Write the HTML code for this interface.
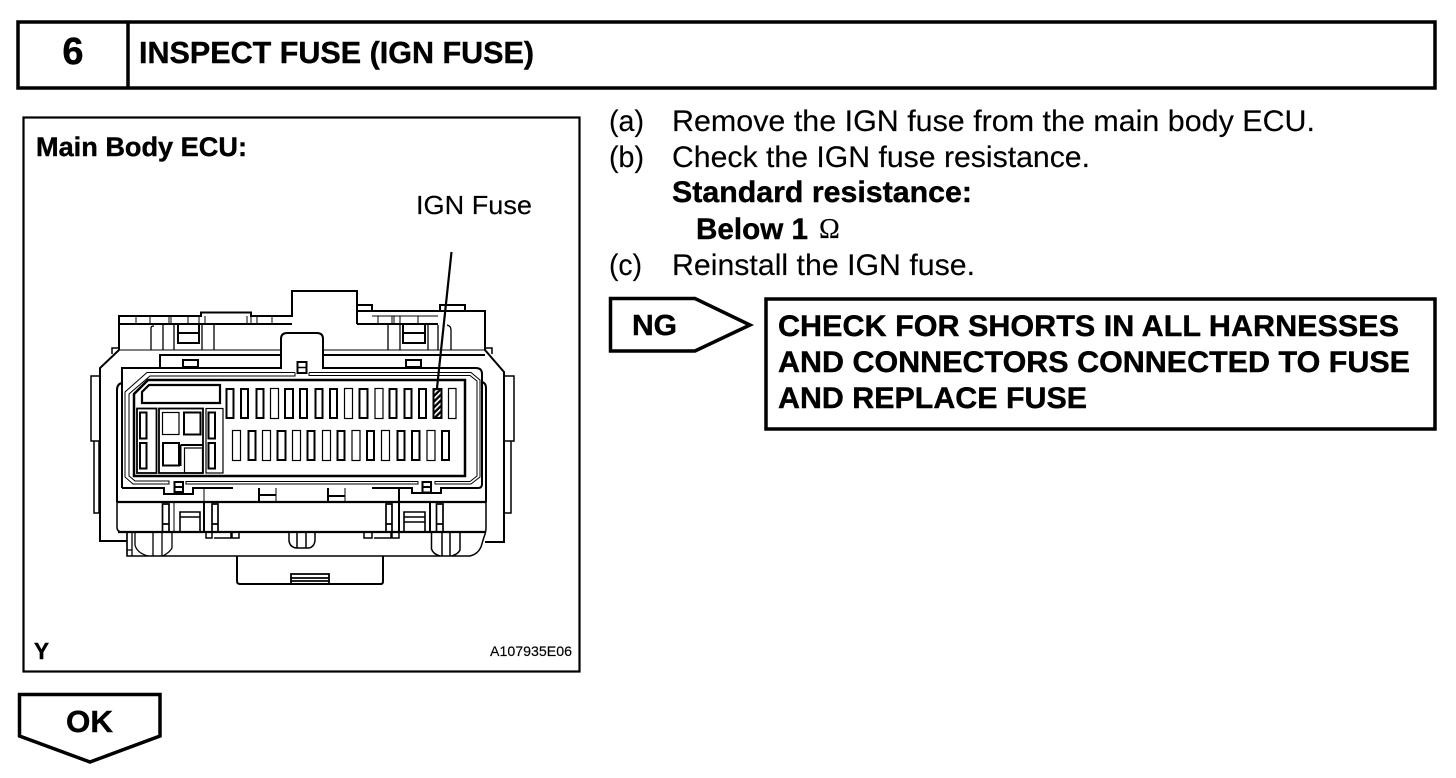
<!DOCTYPE html>
<html><head><meta charset="utf-8"><style>
html,body{margin:0;padding:0;background:#fff}
svg{display:block}
text{font-family:"Liberation Sans",sans-serif;fill:#000;stroke:#000;stroke-width:.15px}
text.b{font-weight:bold;stroke-width:.4px}
</style></head><body>
<svg width="1456" height="778" viewBox="0 0 1456 778" xmlns="http://www.w3.org/2000/svg">
<defs><pattern id="h" width="4" height="4" patternUnits="userSpaceOnUse" patternTransform="rotate(-45)"><rect width="4" height="4" fill="#000"/><rect width="4" height="1.7" fill="#fff"/></pattern></defs>
<!-- header -->
<rect x="18" y="22" width="1417" height="66" fill="none" stroke="#000" stroke-width="3.5"/>
<line x1="128" y1="22" x2="128" y2="88" stroke="#000" stroke-width="3.5"/>
<text x="73" y="64" class="b" font-size="38" text-anchor="middle">6</text>
<text x="139" y="63" class="b" font-size="31" textLength="395" lengthAdjust="spacingAndGlyphs">INSPECT FUSE (IGN FUSE)</text>
<!-- figure box -->
<rect x="23.500" y="117.500" width="556" height="554" fill="none" stroke="#000" stroke-width="2.200"/>
<text x="36" y="156" class="b" font-size="27" textLength="211" lengthAdjust="spacingAndGlyphs">Main Body ECU:</text>
<text x="416" y="214" font-size="26" textLength="116" lengthAdjust="spacingAndGlyphs">IGN Fuse</text>
<text x="34" y="659" class="b" font-size="23.500" textLength="15" lengthAdjust="spacingAndGlyphs">Y</text>
<text x="490" y="656" font-size="14" textLength="82" lengthAdjust="spacingAndGlyphs">A107935E06</text>
<!-- ECU drawing -->
<g fill="none" stroke="#000" stroke-width="1.500">
<!-- outer -->
<path d="M119 350V316H201V312.500H251V316H292V291H357V324" stroke-width="2"/>
<path d="M357 305H372V311M357 311H485V350L504 372V542H485" stroke-width="2"/>
<path d="M440 311V305H465V311M119 324H292M357 324H438" stroke-width="2"/>
<path d="M119 350L100 368V541H127" stroke-width="2"/>
<path d="M112 354V348H119M485 348H492V354" stroke-width="1.500"/>
<path d="M99 376H91V441H99M99 441V513H94V441" stroke-width="1.500"/>
<path d="M504 376H514V441H505M511 441V513H504" stroke-width="1.500"/>
<path d="M136 316V324M150 316V324M169 316V324M171 316V324M188 316V324M199 316V324M205 316V324M247 316V324M251 316V324M257 316V324M272 316V324" stroke-width="1"/>
<path d="M372 316H438M378 316V324M392 316V324M394 316V324M400 316V324M418 316V324" stroke-width="1"/>
<!-- upper clips -->
<path d="M151 350V328Q151 326 154 326M163 325V350M174 325V350M202 325V350M214 325V350" stroke-width="1.300"/>
<path d="M178 325V343H199V325M178 333H199" stroke-width="2"/>
<path d="M388 325V350M400 325V350M428 325V350M438 325V350M447 325Q451 326 451 330V350" stroke-width="1.300"/>
<path d="M403 325V343H425V325M403 333H425" stroke-width="2"/>
<!-- upper band -->
<path d="M119 350H281M323 350H485" stroke-width="1"/>
<path d="M160 368V355H281M323 355H485" stroke-width="2"/>
<path d="M183 360H198V367H183ZM406 360H421V367H406Z" fill="#fff" stroke-width="2"/>
<!-- inner frame -->
<path d="M122 488V368H281V339Q281 333 287 333H317Q323 333 323 339V368H476Q482 368 482 374V484Q482 488 478 488H441V493H412V488H372" stroke-width="2"/>
<path d="M122 488H164V494H193V488H233" stroke-width="2"/>
<rect x="297.500" y="362" width="9" height="11" stroke-width="2"/>
<line x1="297" y1="367.500" x2="307" y2="367.500" stroke-width="1.500"/>
<path d="M122 383Q117 384 117 390V502M482 382Q486 383 486 388V502" stroke-width="2"/>
<!-- gasket lines -->
<path d="M295 372.500V376H150L129 394V476L135 481H169V484H133L125 477V392L147 372.500H295" stroke-width="1"/>
<path d="M309 372.500V375.500H470L477 381V476L470 481.500H435V484H471L480 477V380L471 372.500H309" stroke-width="1"/>
<path d="M186 481.500H418V484H186Z" stroke-width="1"/>
<!-- cavity -->
<path d="M134 476V394L148 380H465V476Z" stroke-width="2.500"/>
<path d="M142 403V392L149 385H220V403Z" stroke-width="2.200"/>
<rect x="174.500" y="482" width="8.500" height="10" stroke-width="2"/>
<line x1="174" y1="487" x2="183" y2="487" stroke-width="2"/>
<rect x="422.500" y="482" width="8.500" height="10.500" stroke-width="2"/>
<line x1="422" y1="487" x2="431" y2="487" stroke-width="2"/>
<path d="M259 488V502M259 495H276M328 488V502M328 496H345" stroke-width="2"/>
<path d="M276 488V502M345 488V502" stroke-width="1"/>
<!-- horizontals -->
<path d="M117 502H486M118 532H485" stroke-width="2.200"/>
<path d="M117 502V527Q117 532 122 532M486 502V528Q486 532 484 537L481 547Q478 554 470 556H127V532" stroke-width="1.500"/>
<path d="M204 488V502" stroke-width="1"/>
<path d="M204 502V532M399 488V532M430 502V532" stroke-width="2"/>
<!-- lower clips -->
<path d="M162.500 504H169V532H162.500ZM162.500 524H169M436.500 504H443V532H436.500ZM436.500 524H443M386 504H392V532H386ZM386 524H392M212 504H218V532H212ZM212 524H218" stroke-width="1.700"/>
<path d="M174 502V532" stroke-width="1"/>
<path d="M180 532V512H200V532M180 517H200M404 532V512H425V532M404 517H425M404 522H425" stroke-width="1.600"/>
<path d="M206 533V538H212V533M214 538H231V533M232 533V538H239V533M364 533V538H372V533M374 538H391V533M392 533V538H399V533" stroke-width="1.500"/>
<path d="M127 532V556M132 532V556M127 550H132M135 533V545Q137 553 148 556M153 533V556M162 533V556M172 533V548Q170 552 163 556" stroke-width="1.300"/>
<path d="M431.500 532V549Q433 554 440 556M442 532V556M450 532V556M460 532V550Q458 554 452 556" stroke-width="1.500"/>
<path d="M289 532V541Q290 547 296 548H309Q314 547 315 541V532M297 532V548M306 532V548" stroke-width="1.500"/>
<!-- bottom connector -->
<path d="M237 556V581Q237 584 240 584H381Q383 584 383 581V556" stroke-width="2"/>
<path d="M291 584V574H329V584M291 578H329M291 581H329" stroke-width="1.800"/>
<!-- fuse block -->
<rect x="137" y="408.500" width="19.500" height="64.500" stroke-width="1.800"/>
<rect x="140" y="412.500" width="6.500" height="26" stroke-width="2"/>
<rect x="140" y="443" width="6.500" height="25.500" stroke-width="2"/>
<rect x="159" y="408.500" width="44" height="64.500" stroke-width="1.800"/>
<rect x="162.500" y="412.500" width="16.500" height="22" stroke-width="1.200"/>
<rect x="184" y="412.500" width="16.500" height="22" stroke-width="2"/>
<rect x="163" y="443" width="16" height="22.500" stroke-width="2"/>
<rect x="184.500" y="448" width="18" height="25" stroke-width="1.200"/>
<path d="M180.500 445H203M180.500 445V466" stroke-width="2"/>
<rect x="206" y="408.500" width="17" height="64.500" stroke-width="1.200"/>
<rect x="208.500" y="412.500" width="6.500" height="26" stroke-width="2"/>
<rect x="208.500" y="443" width="6.500" height="25.500" stroke-width="2"/>
<!-- top slots -->
<g stroke-width="2">
<rect x="226.500" y="389" width="7" height="29"/><rect x="241" y="389" width="7" height="29"/><rect x="256.500" y="389" width="7" height="29"/><rect x="270.500" y="388.500" width="8" height="30" stroke-width="1.200"/><rect x="285" y="389" width="8" height="29"/><rect x="300" y="389" width="7" height="29"/><rect x="315.500" y="389" width="7" height="29"/><rect x="330" y="389" width="7" height="29"/><rect x="344.500" y="388.500" width="8" height="30" stroke-width="1.200"/><rect x="359.500" y="389" width="8" height="29"/><rect x="375" y="388.500" width="8" height="30" stroke-width="1.200"/><rect x="389.500" y="389" width="7" height="29"/><rect x="404.500" y="389" width="7" height="29"/><rect x="419" y="389" width="7" height="29"/><rect x="433.500" y="389" width="8" height="29" fill="url(#h)"/><rect x="448.500" y="388.500" width="7.500" height="30" stroke-width="1.200"/>
</g>
<!-- bottom slots -->
<g stroke-width="2">
<rect x="232.500" y="430.500" width="8" height="30" stroke-width="1.200"/><rect x="248.500" y="431" width="7" height="29"/><rect x="262.500" y="430.500" width="8" height="30" stroke-width="1.200"/><rect x="277.500" y="431" width="8" height="29"/><rect x="292.500" y="430.500" width="8" height="30" stroke-width="1.200"/><rect x="307.500" y="431" width="7" height="29"/><rect x="322.500" y="430.500" width="8" height="30" stroke-width="1.200"/><rect x="337.500" y="431" width="7" height="29"/><rect x="352" y="430.500" width="8" height="30" stroke-width="1.200"/><rect x="367" y="431" width="7" height="29"/><rect x="381.500" y="430.500" width="8" height="30" stroke-width="1.200"/><rect x="397.500" y="431" width="7" height="29"/><rect x="412" y="431" width="7.500" height="29"/><rect x="427" y="430.500" width="8" height="30" stroke-width="1.200"/><rect x="442" y="431" width="7" height="29"/>
</g>
<!-- leader -->
<line x1="451.500" y1="252" x2="437" y2="388" stroke-width="2.200"/>
</g>
<!-- instructions -->
<text x="609" y="131" font-size="30" textLength="35" lengthAdjust="spacingAndGlyphs">(a)</text>
<text x="672" y="131" font-size="30" textLength="643" lengthAdjust="spacingAndGlyphs">Remove the IGN fuse from the main body ECU.</text>
<text x="609" y="167" font-size="30" textLength="35" lengthAdjust="spacingAndGlyphs">(b)</text>
<text x="672" y="167" font-size="30" textLength="418" lengthAdjust="spacingAndGlyphs">Check the IGN fuse resistance.</text>
<text x="672" y="202" class="b" font-size="29.500" textLength="300" lengthAdjust="spacingAndGlyphs">Standard resistance:</text>
<text x="696" y="239" class="b" font-size="29.500" textLength="112" lengthAdjust="spacingAndGlyphs">Below 1</text>
<text x="819" y="238" style="font-family:'Liberation Serif',serif" font-size="28">Ω</text>
<text x="609" y="275" font-size="30" textLength="33" lengthAdjust="spacingAndGlyphs">(c)</text>
<text x="672" y="275" font-size="30" textLength="303" lengthAdjust="spacingAndGlyphs">Reinstall the IGN fuse.</text>
<!-- NG arrow -->
<path d="M610.500 298.500H695L750 325L695 351H610.500Z" fill="none" stroke="#000" stroke-width="3.500"/>
<text x="632" y="335" class="b" font-size="29" textLength="45" lengthAdjust="spacingAndGlyphs">NG</text>
<rect x="766" y="299" width="669" height="130" fill="none" stroke="#000" stroke-width="3.500"/>
<text x="778" y="336" class="b" font-size="30" textLength="621" lengthAdjust="spacingAndGlyphs">CHECK FOR SHORTS IN ALL HARNESSES</text>
<text x="778" y="372" class="b" font-size="30" textLength="632" lengthAdjust="spacingAndGlyphs">AND CONNECTORS CONNECTED TO FUSE</text>
<text x="778" y="408" class="b" font-size="30" textLength="309" lengthAdjust="spacingAndGlyphs">AND REPLACE FUSE</text>
<!-- OK arrow -->
<path d="M19.500 694.500H160V736L90 762L19.500 736Z" fill="none" stroke="#000" stroke-width="3.500"/>
<text x="66" y="732" class="b" font-size="31" textLength="47" lengthAdjust="spacingAndGlyphs">OK</text>
</svg>
</body></html>
